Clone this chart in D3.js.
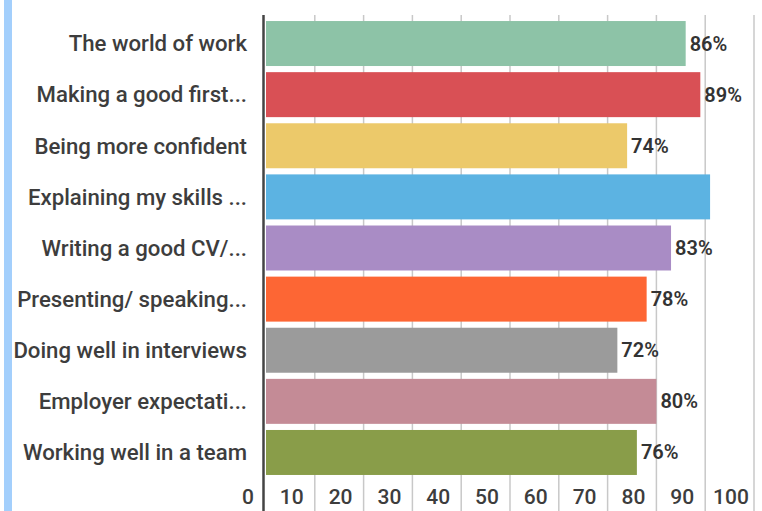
<!DOCTYPE html>
<html>
<head>
<meta charset="utf-8">
<script src="https://cdn.jsdelivr.net/npm/d3@7"></script>
<style>
  body { margin: 0; background: #fff; }
  svg { display: block; font-family: Roboto, "Noto Sans", sans-serif; }
</style>
</head>
<body>
<div id="chart"></div>
<script>
const categories = ["The world of work", "Making a good first...", "Being more confident", "Explaining my skills ...",
    "Writing a good CV/...", "Presenting/ speaking...", "Doing well in interviews", "Employer expectati...", "Working well in a team"]
const values = [86, 89, 74, 91, 83, 78, 72, 80, 76]
const showLabel = [true, true, true, false, true, true, true, true, true]
const colors = ["#8dc3a7", "#d95055", "#ecc96a", "#5cb3e2", "#a98cc5", "#fd6634", "#9b9b9b", "#c48b96", "#899d49"]
const ticks = [0, 10, 20, 30, 40, 50, 60, 70, 80, 90, 100]

const width = 762, height = 511

const svg = d3.select("#chart")
    .append("svg")
    .attr("width", width)
    .attr("height", height)

// light blue strip on the left edge
svg.append("rect")
    .attr("x", 4).attr("y", 0)
    .attr("width", 8).attr("height", height)
    .attr("fill", "#a3cffc")

/* X-scale */
let x = d3.scaleLinear()
    .domain([0, 100])
    .range([266, 754])

/* Y-scale */
let y = d3.scaleBand()
    .domain(categories)
    .range([19.5, 476.5])
    .paddingInner(0.12)
    .paddingOuter(0.03)

// gridlines (behind bars)
svg.selectAll("grid")
    .data(ticks.filter(d => d > 0))
    .enter()
    .append("line")
    .attr("x1", d => x(d)).attr("x2", d => x(d))
    .attr("y1", 15).attr("y2", height)
    .attr("stroke", "#c8c8c8")
    .attr("stroke-width", 1.5)

svg.selectAll("bar")
    .data(values)
    .enter()
    .append("rect")
    .attr("x", x(0))
    .attr("y", (d, i) => y(categories[i]))
    .attr("width", d => x(d) - x(0))
    .attr("height", y.bandwidth())
    .attr("fill", (d, i) => colors[i])

// axis line
svg.append("line")
    .attr("x1", 263.5).attr("x2", 263.5)
    .attr("y1", 15).attr("y2", height)
    .attr("stroke", "#444")
    .attr("stroke-width", 2.5)

// category labels
svg.selectAll("cat-label")
    .data(categories)
    .enter()
    .append("text")
    .text(d => d)
    .attr("x", 247)
    .attr("y", d => y(d) + y.bandwidth() / 2)
    .attr("dy", "0.35em")
    .attr("text-anchor", "end")
    .attr("font-size", 22.2)
    .attr("font-weight", 500)
    .attr("fill", "#3d3d3d")

// value labels
svg.selectAll("bar-label")
    .data(values)
    .enter()
    .append("text")
    .text((d, i) => showLabel[i] ? d + "%" : "")
    .attr("x", d => x(d) + 4)
    .attr("y", (d, i) => y(categories[i]) + y.bandwidth() / 2)
    .attr("dy", "0.35em")
    .attr("font-size", 20)
    .attr("font-weight", 600)
    .attr("fill", "#333")

// tick labels (sit between gridlines, as in the original)
svg.selectAll("tick-label")
    .data(ticks)
    .enter()
    .append("text")
    .text(d => d)
    .attr("x", d => d === 0 ? x(d) - 18 : x(d) - 23)
    .attr("y", 497)
    .attr("dy", "0.35em")
    .attr("text-anchor", "middle")
    .attr("font-size", 21)
    .attr("font-weight", 500)
    .attr("fill", "#3d3d3d")
</script>
</body>
</html>
